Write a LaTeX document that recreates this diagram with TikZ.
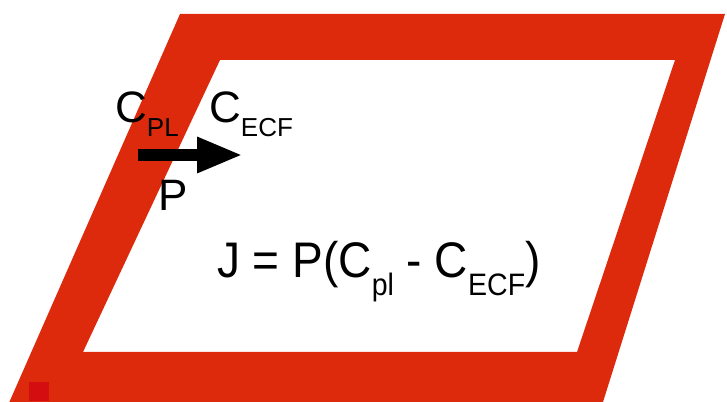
\documentclass[tikz,border=0pt]{standalone}
\usepackage{fontspec}
\setmainfont{Liberation Sans}
\usepackage{graphicx}
\usetikzlibrary{arrows.meta}

\definecolor{framered}{RGB}{222,42,12}
\definecolor{markred}{RGB}{212,14,16}

\newcommand{\labelsub}[1]{\raisebox{-14pt}{\fontsize{26}{26}\selectfont #1}}
\newcommand{\eqsub}[1]{\raisebox{-18pt}{\fontsize{31}{31}\selectfont #1}}

\begin{document}
\begin{tikzpicture}[
    x=1pt, y=1pt,
    label/.style={inner sep=0pt, anchor=base west, font=\fontsize{44}{46}\selectfont},
    equation/.style={inner sep=0pt, anchor=base west, font=\fontsize{50}{52}\selectfont},
    flux/.style={-{Triangle[length=46pt,width=33pt]}, line width=12pt}
]
\useasboundingbox (0,0) rectangle (727,401);
\clip (0,0) rectangle (727,401);

% Frame
\fill[framered, even odd rule]
    (180,387) -- (725,387) -- (597,-20) -- (1,-20) -- cycle
    (220,341) -- (675,341) -- (577,49) -- (83,49) -- cycle;
\fill[markred] (29,0) rectangle (49,19);

% Labels
\node[label] (cpl) at (115,278) {C\labelsub{PL}};
\node[label] (cecf) at (209,278) {C\labelsub{ECF}};
\node[label] (perm) at (158,190) {P};

% Flux arrow
\coordinate (fluxtail) at (138,246);
\coordinate (fluxhead) at (243,246);
\draw[flux] (fluxtail) -- (fluxhead);

% Equation
\node[equation] (eq) at (217,123) {\scalebox{0.92}[1]{J = P(C\eqsub{pl} - C\eqsub{ECF})}};

\end{tikzpicture}
\end{document}
